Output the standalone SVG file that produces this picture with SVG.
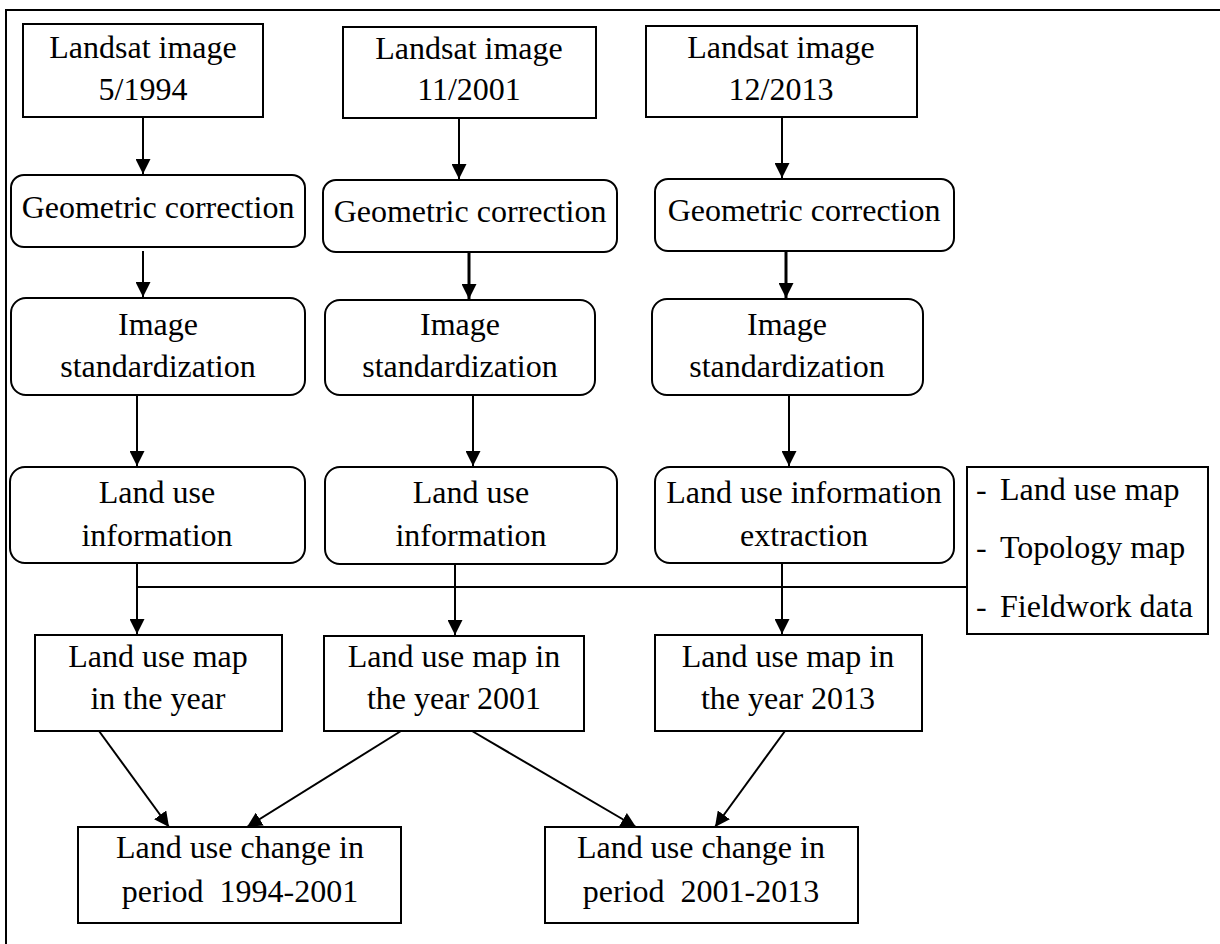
<svg xmlns="http://www.w3.org/2000/svg" width="1220" height="944" viewBox="0 0 1220 944">
<defs>
<style>
.box{fill:#fff;stroke:#000;stroke-width:2}
.t{font-family:"Liberation Serif","Times New Roman",serif;font-size:32px;fill:#000;text-anchor:middle}
.tl{font-family:"Liberation Serif","Times New Roman",serif;font-size:32px;fill:#000}
.c{fill:none;stroke:#000;stroke-width:2}
.a{fill:none;stroke:#000;stroke-width:2;marker-end:url(#ah)}
.a3{fill:none;stroke:#000;stroke-width:3;marker-end:url(#ah)}
</style>
<marker id="ah" markerUnits="userSpaceOnUse" markerWidth="15" markerHeight="15" refX="15" refY="7.5" orient="auto">
<path d="M0,0 L15,7.5 L0,15 Z" fill="#000"/>
</marker>
</defs>
<rect width="1220" height="944" fill="#fff"/>
<path d="M6,944 V10 H1220" fill="none" stroke="#000" stroke-width="2"/>

<g id="connectors">
<line class="a" x1="143" y1="117" x2="143" y2="174"/>
<line class="a" x1="459" y1="118" x2="459" y2="179"/>
<line class="a" x1="782" y1="117" x2="782" y2="178"/>
<line class="a" x1="143" y1="251" x2="143" y2="297"/>
<line class="a3" x1="469" y1="252" x2="469" y2="299"/>
<line class="a3" x1="786" y1="251" x2="786" y2="298"/>
<line class="a" x1="137" y1="395" x2="137" y2="466"/>
<line class="a" x1="473" y1="395" x2="473" y2="466"/>
<line class="a" x1="789" y1="395" x2="789" y2="466"/>
<line class="c" x1="137" y1="587" x2="967" y2="587"/>
<line class="a" x1="137" y1="563" x2="137" y2="634"/>
<line class="a" x1="455" y1="564" x2="455" y2="635"/>
<line class="a" x1="782" y1="563" x2="782" y2="634"/>
<line class="a" x1="99" y1="731" x2="169" y2="827"/>
<line class="a" x1="401" y1="731" x2="247" y2="827"/>
<line class="a" x1="472" y1="731" x2="636" y2="827"/>
<line class="a" x1="785" y1="731" x2="715" y2="827"/>
</g>

<g id="landsat1994"><rect class="box" x="23" y="24" width="240" height="93"/>
<text class="t" x="143" y="58">Landsat image</text><text class="t" x="143" y="100">5/1994</text></g>
<g id="landsat2001"><rect class="box" x="343" y="27" width="253" height="91"/>
<text class="t" x="469" y="59">Landsat image</text><text class="t" x="469" y="100">11/2001</text></g>
<g id="landsat2013"><rect class="box" x="646" y="26" width="271" height="91"/>
<text class="t" x="781" y="58">Landsat image</text><text class="t" x="781" y="100">12/2013</text></g>

<g id="geo1"><rect class="box" x="11" y="175" width="294" height="72" rx="13"/>
<text class="t" x="158" y="218">Geometric correction</text></g>
<g id="geo2"><rect class="box" x="323" y="180" width="294" height="72" rx="13"/>
<text class="t" x="470" y="222">Geometric correction</text></g>
<g id="geo3"><rect class="box" x="655" y="179" width="299" height="72" rx="13"/>
<text class="t" x="804" y="221">Geometric correction</text></g>

<g id="std1"><rect class="box" x="11" y="298" width="294" height="97" rx="15"/>
<text class="t" x="158" y="335">Image</text><text class="t" x="158" y="377">standardization</text></g>
<g id="std2"><rect class="box" x="325" y="300" width="270" height="95" rx="15"/>
<text class="t" x="460" y="335">Image</text><text class="t" x="460" y="377">standardization</text></g>
<g id="std3"><rect class="box" x="652" y="299" width="271" height="96" rx="15"/>
<text class="t" x="787" y="335">Image</text><text class="t" x="787" y="377">standardization</text></g>

<g id="lui1"><rect class="box" x="10" y="467" width="295" height="96" rx="15"/>
<text class="t" x="157" y="503">Land use</text><text class="t" x="157" y="546">information</text></g>
<g id="lui2"><rect class="box" x="325" y="467" width="292" height="97" rx="15"/>
<text class="t" x="471" y="503">Land use</text><text class="t" x="471" y="546">information</text></g>
<g id="lui3"><rect class="box" x="655" y="467" width="299" height="96" rx="15"/>
<text class="t" x="804" y="503">Land use information</text><text class="t" x="804" y="546">extraction</text></g>

<g id="ancillary"><rect class="box" x="967" y="467" width="241" height="167"/>
<text class="tl" x="976" y="500">-</text><text class="tl" x="1000" y="500">Land use map</text>
<text class="tl" x="976" y="558">-</text><text class="tl" x="1000" y="558">Topology map</text>
<text class="tl" x="976" y="617">-</text><text class="tl" x="1000" y="617">Fieldwork data</text></g>

<g id="map1994"><rect class="box" x="35" y="635" width="247" height="96"/>
<text class="t" x="158" y="667">Land use map</text><text class="t" x="158" y="709">in the year</text></g>
<g id="map2001"><rect class="box" x="324" y="636" width="260" height="95"/>
<text class="t" x="454" y="667">Land use map in</text><text class="t" x="454" y="709">the year 2001</text></g>
<g id="map2013"><rect class="box" x="655" y="635" width="267" height="96"/>
<text class="t" x="788" y="667">Land use map in</text><text class="t" x="788" y="709">the year 2013</text></g>

<g id="change1"><rect class="box" x="78" y="827" width="323" height="96"/>
<text class="t" x="240" y="858">Land use change in</text><text class="t" x="240" y="902" xml:space="preserve">period  1994-2001</text></g>
<g id="change2"><rect class="box" x="545" y="827" width="313" height="96"/>
<text class="t" x="701" y="858">Land use change in</text><text class="t" x="701" y="902" xml:space="preserve">period  2001-2013</text></g>
</svg>
